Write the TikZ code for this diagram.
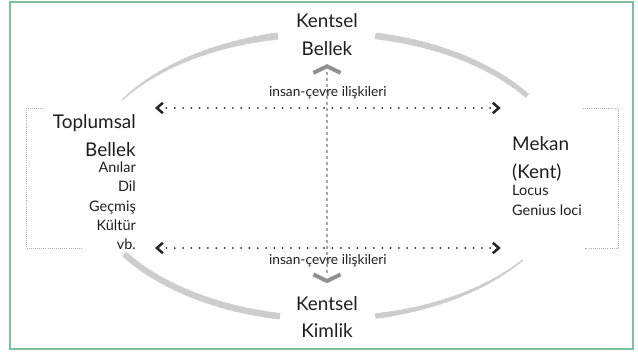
\documentclass[tikz,border=0pt]{standalone}
\usepackage{fontspec}
\setmainfont{Lato}
\usetikzlibrary{arrows.meta,positioning}

\definecolor{framegreen}{RGB}{122,192,152}
\definecolor{arcgray}{RGB}{205,205,207}
\definecolor{tipgray}{RGB}{145,145,148}
\definecolor{inkgray}{RGB}{30,30,30}

% grey arc on the big ellipse round (mid): start angle, end angle, start width, end width
\newcommand{\flowarc}[4]{%
  \foreach \k in {0,...,23}{%
    \pgfmathsetmacro{\ta}{#1+(#2-#1)*\k/24}%
    \pgfmathsetmacro{\tb}{#1+(#2-#1)*min(\k+1.3,24)/24}%
    \pgfmathsetmacro{\lw}{#3+(#4-#3)*(\k+0.5)/24}%
    \draw[arcgray, line width=\lw bp] (mid) ++(\ta:241.8 and 143)
      arc[start angle=\ta, end angle=\tb, x radius=241.8, y radius=143];
  }%
}

\begin{document}
\begin{tikzpicture}[
    x=1bp, y=1bp,
    every node/.style={inner sep=0pt, text=inkgray},
    bigtext/.style={font=\fontsize{19}{27.5}\selectfont},
    smalltext/.style={font=\fontsize{14.5}{19.5}\selectfont},
    rellabel/.style={font=\fontsize{13.8}{15}\selectfont},
    relarrow/.style={<->, >={Straight Barb[length=6bp, width=10.5bp, line width=2.5bp]}, draw=black!85, line width=2bp, line cap=round, dash pattern=on 0bp off 8.3bp},
    axisline/.style={draw=tipgray!80, line width=1.4bp, dash pattern=on 3bp off 3bp},
    chevron/.style={draw=tipgray, line width=4bp, line join=miter},
    bracket/.style={draw=black!30, line width=0.8bp, dash pattern=on 0.8bp off 1.3bp},
    frame/.style={draw=framegreen, line width=2bp}
]
\useasboundingbox (0,0) rectangle (638,352);
\draw[frame] (10.3,3.2) rectangle (632.5,349.7);

\coordinate (mid) at (327,176);

% grey ring
\flowarc{148}{101.7}{1.2}{7}
\flowarc{78.5}{34}{6.5}{5}
\flowarc{213}{258.8}{6}{6.5}
\flowarc{281.5}{324}{5.5}{1.2}

% the four corners
\node[bigtext, align=center] (bellek) at (327,317.5) {Kentsel\\Bellek};
\node[bigtext, align=center] (kimlik) at (327,35) {Kentsel\\Kimlik};
\node[bigtext, align=right, anchor=east] (toplum) at (136,216.5) {Toplumsal\\Bellek};
\node[smalltext, align=right, below=5bp of toplum.south east, anchor=north east] (toplumlist) {Anılar\\Dil\\Geçmiş\\Kültür\\vb.};
\node[bigtext, align=left, anchor=west] (mekan) at (512,193) {Mekan\\(Kent)};
\node[smalltext, align=left, below=4bp of mekan.south west, anchor=north west] (mekanlist) {Locus\\Genius loci};

% brackets
\draw[bracket] (43,244) -- (26,244) -- (26,104) -- (82,104);
\draw[bracket] (583,244) -- (618,244) -- (618,104) -- (585,104);

% vertical axis
\coordinate (axtop) at (327,280);
\coordinate (axbot) at (327,76);
\coordinate (uptip) at (327,285.7);
\coordinate (downtip) at (327,71);
\draw[axisline] (axtop) -- (axbot);
\draw[chevron] (uptip) ++(-13.5,-6.5) -- (uptip) -- ++(13.5,-6.5);
\draw[chevron] (downtip) ++(-13.5,6.5) -- (downtip) -- ++(13.5,6.5);

% relations
\coordinate (reltopL) at (155,244);
\coordinate (reltopR) at (500.7,244);
\coordinate (relbotL) at (155,104);
\coordinate (relbotR) at (500.7,104);
\draw[relarrow] (reltopL) -- node[rellabel, above=8bp] {insan-çevre ilişkileri} (reltopR);
\draw[relarrow] (relbotL) -- node[rellabel, below=5bp] {insan-çevre ilişkileri} (relbotR);

\end{tikzpicture}
\end{document}
